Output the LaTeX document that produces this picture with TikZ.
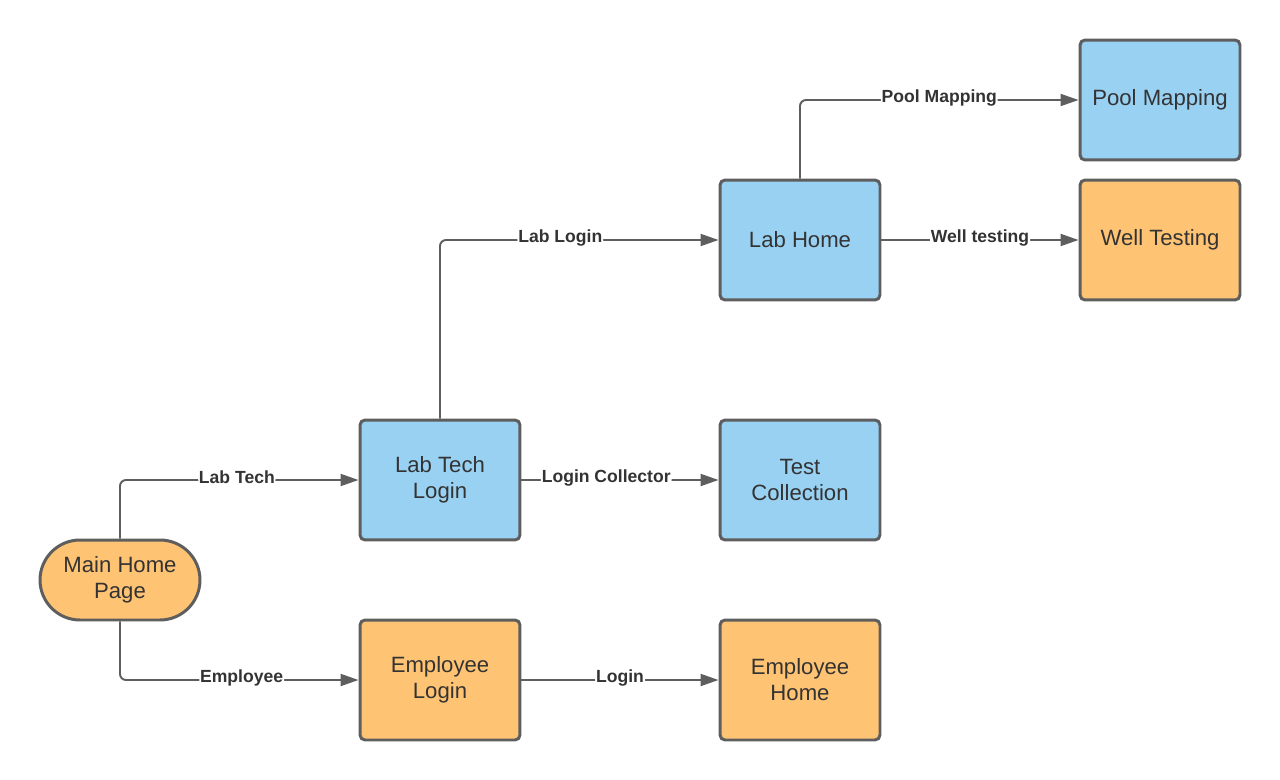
\documentclass[tikz,border=0pt]{standalone}
\usepackage{fontspec}
\setmainfont{Liberation Sans}
\usetikzlibrary{shapes,arrows,arrows.meta}
\definecolor{boxblue}{HTML}{99D1F3}
\definecolor{boxorange}{HTML}{FFC374}
\definecolor{edgegray}{HTML}{5E5E5E}
\definecolor{txtgray}{HTML}{333333}

\begin{document}
\begin{tikzpicture}[x=0.02cm,y=-0.02cm]
	\tikzstyle{every node}=[text=txtgray]
	\tikzstyle{page}=[draw=edgegray, line width=1.7pt, rounded corners=0.1cm, minimum width=3.2cm, minimum height=2.4cm, align=center, font=\fontsize{12.6}{14.8}\selectfont]
	\tikzstyle{bluepage}=[page, fill=boxblue]
	\tikzstyle{orangepage}=[page, fill=boxorange]
	\tikzstyle{link}=[-{Triangle[length=0.36cm,width=0.24cm]}, draw=edgegray, line width=1.1pt, rounded corners=0.12cm]
	\tikzstyle{lbl}=[fill=white, inner sep=0.5pt, yshift=0.05cm, font=\bfseries\fontsize{10}{11}\selectfont]

	%% pages
	\useasboundingbox (0,0) rectangle (1280,780);
	\node [orangepage, minimum height=1.6cm, rounded corners=0.8cm] (mainhome) at (120.0000,580.0000) {Main Home\\Page};
	\node [bluepage] (labtechlogin) at (440.0000,480.0000) {Lab Tech\\Login};
	\node [bluepage] (testcollection) at (800.0000,480.0000) {Test\\Collection};
	\node [orangepage] (employeelogin) at (440.0000,680.0000) {Employee\\Login};
	\node [orangepage] (employeehome) at (800.0000,680.0000) {Employee\\Home};
	\node [bluepage] (labhome) at (800.0000,240.0000) {Lab Home};
	\node [bluepage] (poolmapping) at (1160.0000,100.0000) {Pool Mapping};
	\node [orangepage] (welltesting) at (1160.0000,240.0000) {Well Testing};

	%% links
	\draw [link] (mainhome.north) |- node [lbl, pos=0.745] {Lab Tech} (labtechlogin.west);
	\draw [link] (mainhome.south) |- node [lbl, pos=0.755] {Employee} (employeelogin.west);
	\draw [link] (labtechlogin.east) -- node [lbl, pos=0.43] {Login Collector} (testcollection.west);
	\draw [link] (employeelogin.east) -- node [lbl, pos=0.5] {Login} (employeehome.west);
	\draw [link] (labtechlogin.north) |- node [lbl, pos=0.716] {Lab Login} (labhome.west);
	\draw [link] (labhome.east) -- node [lbl, pos=0.5] {Well testing} (welltesting.west);
	\draw [link] (labhome.north) |- node [lbl, pos=0.75] {Pool Mapping} (poolmapping.west);

\end{tikzpicture}
\end{document}
